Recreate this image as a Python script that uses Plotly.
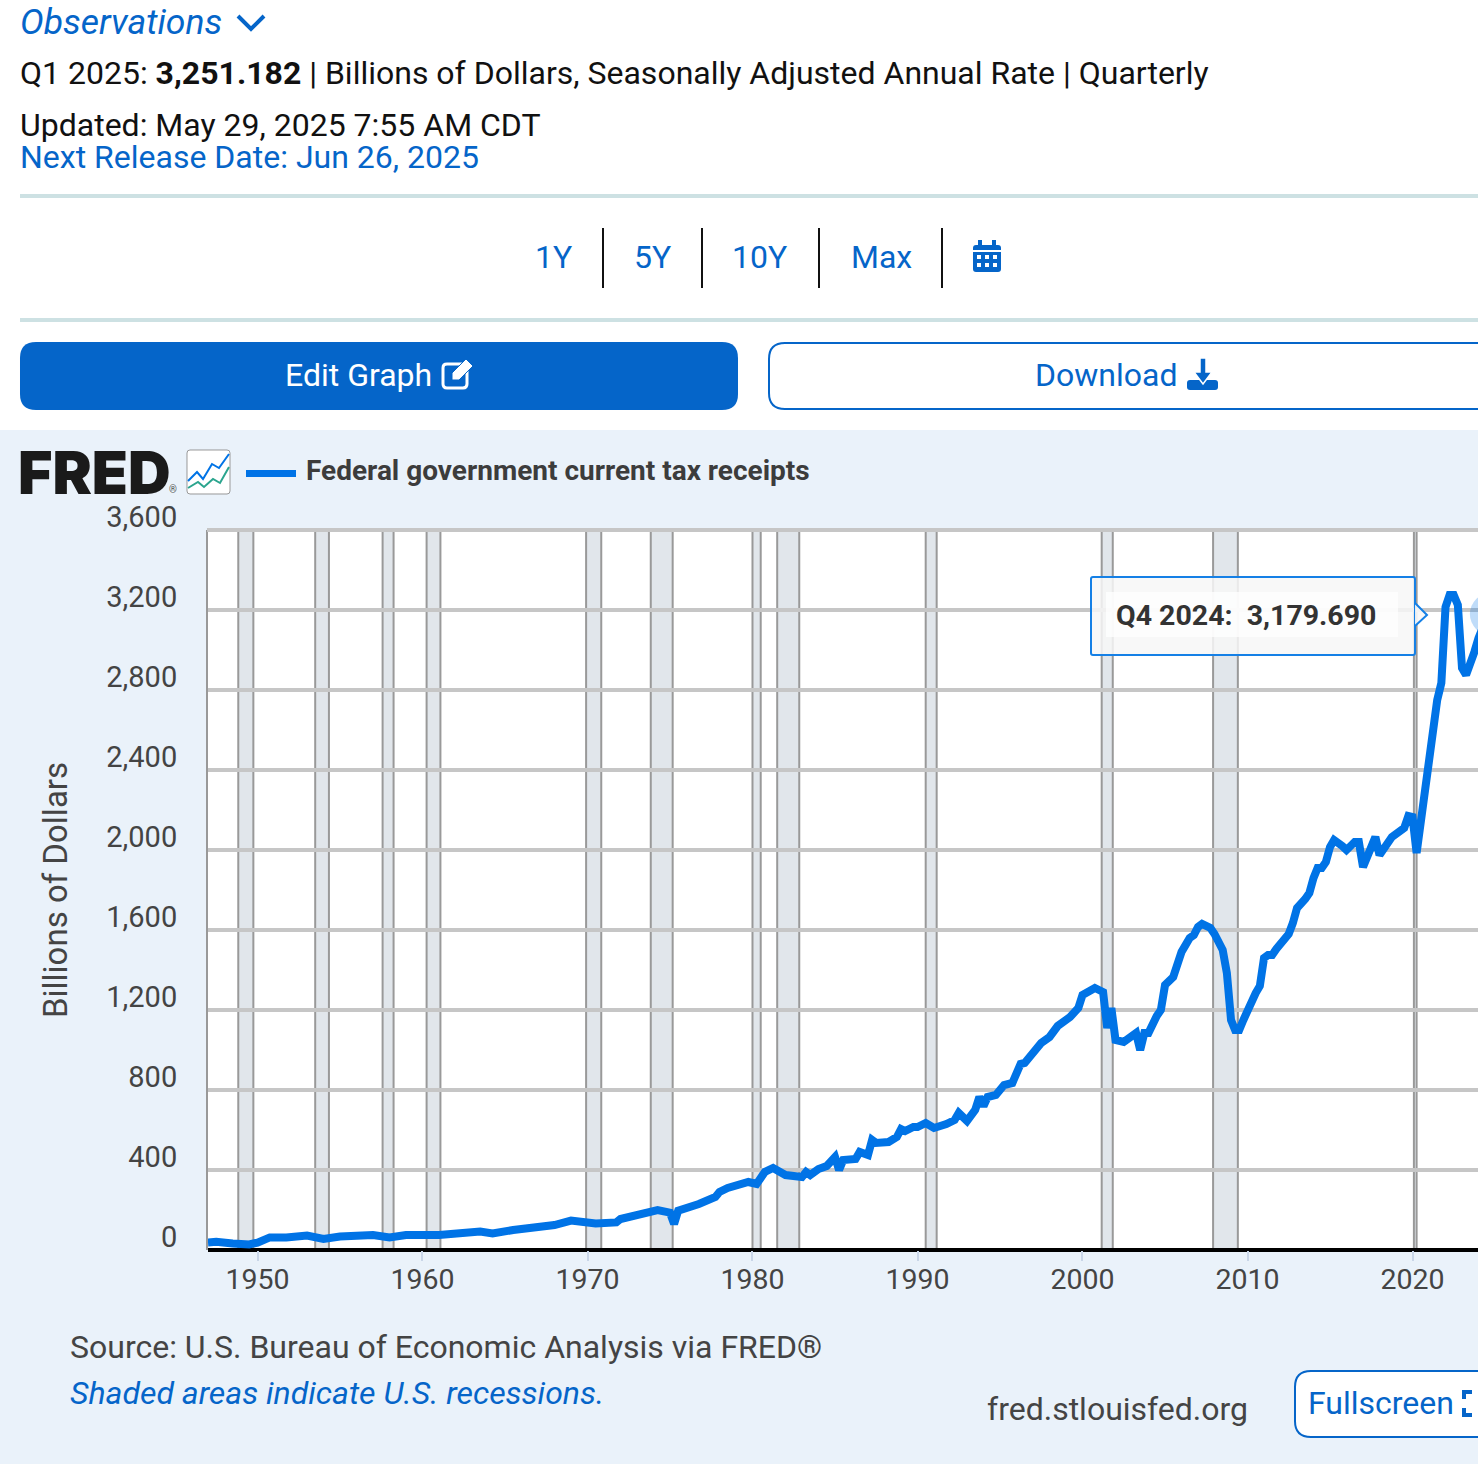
import pandas as pd
import plotly.graph_objects as go

W, H = 1478, 1474

quarters = [
    "1947Q1", "1947Q3", "1948Q3", "1949Q3", "1950Q1", "1950Q4", "1951Q4", "1953Q1", "1954Q1", "1955Q1",
    "1957Q1", "1958Q1", "1959Q1", "1961Q1", "1963Q3", "1964Q2", "1965Q3", "1967Q1", "1968Q1", "1969Q1",
    "1970Q3", "1971Q4", "1972Q1", "1974Q2", "1975Q1", "1975Q2", "1975Q3", "1976Q4", "1977Q4", "1978Q1",
    "1978Q3", "1979Q4", "1980Q2", "1980Q4", "1981Q2", "1982Q1", "1982Q3", "1983Q1", "1983Q2", "1983Q3",
    "1984Q1", "1984Q3", "1985Q1", "1985Q2", "1985Q3", "1986Q2", "1986Q3", "1987Q1", "1987Q2", "1987Q3",
    "1988Q2", "1988Q4", "1989Q1", "1989Q2", "1989Q4", "1990Q1", "1990Q3", "1991Q1", "1991Q4", "1992Q2",
    "1992Q3", "1993Q1", "1993Q3", "1993Q4", "1994Q1", "1994Q2", "1994Q4", "1995Q2", "1995Q4", "1996Q1",
    "1996Q2", "1996Q3", "1997Q3", "1998Q1", "1998Q3", "1999Q2", "1999Q4", "2000Q1", "2000Q4", "2001Q1",
    "2001Q2", "2001Q3", "2001Q4", "2002Q1", "2002Q3", "2003Q2", "2003Q3", "2003Q4", "2004Q1", "2004Q3",
    "2004Q4", "2005Q1", "2005Q3", "2006Q1", "2006Q3", "2006Q4", "2007Q1", "2007Q2", "2007Q4", "2008Q1",
    "2008Q2", "2008Q3", "2008Q4", "2009Q1", "2009Q2", "2009Q3", "2009Q4", "2010Q1", "2010Q2", "2010Q3",
    "2010Q4", "2011Q1", "2011Q2", "2011Q3", "2011Q4", "2012Q2", "2012Q3", "2012Q4", "2013Q1", "2013Q3",
    "2013Q4", "2014Q1", "2014Q2", "2014Q3", "2014Q4", "2015Q1", "2015Q2", "2015Q4", "2016Q1", "2016Q2",
    "2016Q3", "2016Q4", "2017Q1", "2017Q4", "2018Q1", "2018Q4", "2019Q2", "2019Q3", "2019Q4", "2020Q1",
    "2020Q2", "2020Q3", "2020Q4", "2021Q1", "2021Q2", "2021Q3", "2021Q4", "2022Q1", "2022Q2", "2022Q3",
    "2022Q4", "2023Q1", "2023Q2", "2023Q3", "2023Q4", "2024Q1", "2024Q2", "2024Q3", "2024Q4", "2025Q1",
]
receipts = [
    38, 41, 33, 28, 37, 63, 63, 72, 55, 67,
    75, 63, 75, 75, 92, 83, 100, 113, 125, 147,
    133, 138, 155, 200, 187, 130, 197, 230, 265, 290,
    310, 340, 330, 390, 410, 375, 365, 365, 390, 375,
    405, 420, 465, 400, 450, 455, 490, 475, 550, 535,
    540, 565, 605, 595, 615, 615, 635, 610, 630, 650,
    685, 645, 700, 765, 720, 765, 775, 825, 835, 875,
    930, 935, 1035, 1065, 1120, 1165, 1210, 1275, 1310, 1300,
    1290, 1110, 1210, 1050, 1040, 1085, 1000, 1085, 1085, 1170,
    1200, 1325, 1365, 1490, 1560, 1575, 1615, 1630, 1610, 1580,
    1545, 1500, 1385, 1150, 1100, 1100, 1150, 1200, 1245, 1285,
    1320, 1460, 1475, 1475, 1505, 1555, 1580, 1635, 1710, 1755,
    1785, 1860, 1910, 1910, 1940, 2015, 2050, 2020, 2000, 2020,
    2040, 2040, 1915, 2065, 1975, 2065, 2090, 2110, 2170, 2165,
    1985, 2140, 2285, 2475, 2650, 2750, 2835, 3215, 3275, 3275,
    3225, 2910, 2875, 2925, 2990, 3060, 3110, 3130, 3179.69, 3251.182,
]

recession_start = ["1948-11-01", "1953-07-01", "1957-08-01", "1960-04-01", "1969-12-01", "1973-11-01",
                   "1980-01-01", "1981-07-01", "1990-07-01", "2001-03-01", "2007-12-01", "2020-02-01"]
recession_end = ["1949-10-01", "1954-05-01", "1958-04-01", "1961-02-01", "1970-11-01", "1975-03-01",
                 "1980-07-01", "1982-11-01", "1991-03-01", "2001-11-01", "2009-06-01", "2020-04-01"]

range_tabs = ["1Y", "5Y", "10Y", "Max"]
tab_centers = [553, 652, 760, 881]
tab_dividers = [603, 702, 819, 942]

BLUE = "#0565C9"
LINE = "#0073E6"
PANEL = "#EAF2FA"
GRID = "#C6C6C6"
GREY = "#444444"
FONT = "Roboto"

dates = pd.PeriodIndex(quarters, freq="Q").to_timestamp()
last_idx = quarters.index("2024Q4")


def px(x):
    return x / W


def py(y):
    return 1 - y / H


def poly(points, close=False):
    path = "M" + " L".join(f"{px(x):.5f},{py(y):.5f}" for x, y in points)
    return path + (" Z" if close else "")


def round_box(x0, y0, x1, y1, r):
    # rounded rectangle as a paper path
    p = lambda x, y: f"{px(x):.5f},{py(y):.5f}"
    return (f"M{p(x0 + r, y0)} L{p(x1 - r, y0)} Q{p(x1, y0)} {p(x1, y0 + r)} L{p(x1, y1 - r)} "
            f"Q{p(x1, y1)} {p(x1 - r, y1)} L{p(x0 + r, y1)} Q{p(x0, y1)} {p(x0, y1 - r)} "
            f"L{p(x0, y0 + r)} Q{p(x0, y0)} {p(x0 + r, y0)} Z")


def path_shape(path, fill="rgba(0,0,0,0)", color="rgba(0,0,0,0)", width=0, layer="below"):
    return dict(type="path", xref="paper", yref="paper", path=path, fillcolor=fill,
                line=dict(color=color, width=width), layer=layer)


def rect_shape(x0, y0, x1, y1, fill, layer="below"):
    return dict(type="rect", xref="paper", yref="paper", x0=px(x0), x1=px(x1), y0=py(y0), y1=py(y1),
                fillcolor=fill, line=dict(width=0), layer=layer)


def label(text, x, y, size=32, color="#111111", anchor="left", family=FONT, **font):
    return dict(text=text, x=px(x), y=py(y), xref="paper", yref="paper", xanchor=anchor, yanchor="middle",
                showarrow=False, align="left", borderpad=0, font=dict(family=family, size=size, color=color, **font))


shapes = [
    rect_shape(0, 430, W, 1464, PANEL),
    rect_shape(207, 530, W, 1250, "white"),
    rect_shape(20, 194, W, 198, "#CDE1E3"),
    rect_shape(20, 318, W, 322, "#CDE1E3"),
    path_shape(round_box(20, 342, 738, 410, 16), fill=BLUE),
    path_shape(round_box(769, 343, 1510, 409, 16), fill="white", color=BLUE, width=2),
    path_shape(round_box(1295, 1371, 1510, 1437, 16), fill="white", color=BLUE, width=2),
    # chevron next to Observations
    path_shape(poly([(238, 16), (251, 29), (264, 16)]), color=BLUE, width=4),
    # calendar icon
    path_shape(round_box(973, 245, 1001, 272, 3), fill=BLUE),
    rect_shape(978, 240, 982, 248, BLUE),
    rect_shape(992, 240, 996, 248, BLUE),
    rect_shape(973, 250, 1001, 252, "white"),
    # edit icon
    path_shape(round_box(443, 364, 467, 388, 4), color="white", width=3),
    path_shape(poly([(452, 373), (466, 359), (473, 366), (459, 380), (452, 380)], True), fill="white", color=BLUE, width=1),
    # download icon
    path_shape(round_box(1187, 380, 1218, 390, 3), fill=BLUE),
    path_shape(poly([(1200, 358), (1206, 358), (1206, 372), (1212, 372), (1203, 384), (1194, 372), (1200, 372)], True),
               fill=BLUE, color="white", width=1.5),
    # fullscreen brackets
    path_shape(poly([(1472, 1392), (1464, 1392), (1464, 1399)]), color=BLUE, width=4),
    path_shape(poly([(1464, 1408), (1464, 1415), (1472, 1415)]), color=BLUE, width=4),
    # small FRED graph icon
    path_shape(round_box(187, 450, 230, 494, 3), fill="white", color="#999999", width=1),
    path_shape(poly([(188, 481), (197, 472), (203, 479), (212, 464), (219, 468), (229, 454)]), color=LINE, width=2),
    path_shape(poly([(188, 488), (198, 482), (204, 487), (213, 479), (220, 483), (229, 467)]), color="#2BA58E", width=2),
    # legend dash
    rect_shape(246, 470, 296, 477, LINE),
    # top edge of the plot, plotly drops the gridline on the range end
    rect_shape(207, 528, W, 532, GRID, layer="above"),
    # tooltip, drawn above the plot
    path_shape(round_box(1091, 577, 1415, 655, 2), fill="rgba(247,247,247,0.85)", color="#1580E6", width=2, layer="above"),
    rect_shape(1106, 592, 1398, 637, "rgba(255,255,255,0.75)", layer="above"),
    path_shape(poly([(1415, 603), (1427, 615), (1415, 626)]), fill="rgba(247,247,247,0.9)", color="#1580E6", width=2, layer="above"),
]
for cx in [979, 987, 995]:
    for cy in [257, 265]:
        shapes.append(rect_shape(cx - 2, cy - 2, cx + 2, cy + 2, "white"))
for x in tab_dividers:
    shapes.append(rect_shape(x - 1, 228, x + 1, 288, "#111111"))
for start, end in zip(recession_start, recession_end):
    shapes.append(dict(type="rect", xref="x", yref="y", x0=start, x1=end, y0=0, y1=3600, layer="below",
                       fillcolor="#E1E6EB", line=dict(color="#999999", width=2)))

annotations = [
    label("Observations", 19, 22, size=35.5, color=BLUE, style="italic"),
    label("Q1 2025: <b>3,251.182</b> | Billions of Dollars, Seasonally Adjusted Annual Rate | Quarterly", 19, 73),
    label("Updated: May 29, 2025 7:55 AM CDT", 19, 125),
    label("Next Release Date: Jun 26, 2025", 19, 157, color=BLUE),
    label("Edit Graph", 358, 375, color="white", anchor="center"),
    label("Download", 1106, 375, color=BLUE, anchor="center"),
    label("FRED", 17, 472, size=59, color="#1A1A1A", family="Inter", weight=900),
    label("®", 168, 490, size=10, color="#555555"),
    label("Federal government current tax receipts", 305, 470, size=28, color="#3C3C3C", weight=700),
    label(f"{quarters[last_idx][4:]} {quarters[last_idx][:4]}:&nbsp;&nbsp;{receipts[last_idx]:,.3f}", 1115, 615,
          size=28.5, color="#333333", weight=700),
    label("Source: U.S. Bureau of Economic Analysis via FRED®", 69, 1347, color=GREY),
    label("Shaded areas indicate U.S. recessions.", 69, 1393, color=BLUE, style="italic"),
    label("fred.stlouisfed.org", 986, 1409, color=GREY),
    label("Fullscreen", 1307, 1403, color=BLUE),
]
for tab, x in zip(range_tabs, tab_centers):
    annotations.append(label(tab, x, 257, color=BLUE, anchor="center"))

fig = go.Figure()
fig.add_trace(go.Scatter(x=dates, y=receipts, mode="lines", line=dict(color=LINE, width=8), hoverinfo="skip"))
fig.add_trace(go.Scatter(x=[dates[last_idx]], y=[receipts[last_idx]], mode="markers",
                         marker=dict(size=42, color="rgba(0,115,230,0.25)"), hoverinfo="skip"))

fig.update_layout(
    width=W,
    height=H,
    margin=dict(l=0, r=0, t=0, b=0, autoexpand=False),
    showlegend=False,
    paper_bgcolor="white",
    plot_bgcolor="white",
    font=dict(family=FONT, color=GREY),
    shapes=shapes,
    annotations=annotations,
)
fig.update_xaxes(
    domain=[px(208), 1],
    type="date",
    range=["1947-01-01", "2023-12-21"],
    tick0="1950-01-01",
    dtick="M120",
    tickformat="%Y",
    showgrid=False,
    showline=False,
    ticks="outside",
    ticklen=10,
    tickwidth=2,
    tickcolor="#C9D6E8",
    ticklabelstandoff=-6,
    tickfont=dict(size=28.5, color=GREY),
)
fig.update_yaxes(
    domain=[py(1250), py(530)],
    range=[0, 3600],
    dtick=400,
    tickformat=",",
    gridcolor=GRID,
    gridwidth=4,
    zeroline=True,
    zerolinecolor="black",
    zerolinewidth=4,
    showline=True,
    linecolor="#999999",
    linewidth=2,
    ticks="",
    ticklabelposition="outside top",
    ticklabelstandoff=23,
    ticklabelshift=7,
    tickfont=dict(size=29, color=GREY),
    title=dict(text="Billions of Dollars", font=dict(size=33, color=GREY), standoff=29),
)

fig.write_html("out.html", config={"displayModeBar": False},
               post_script="document.body.style.margin='0';document.body.style.overflow='hidden';")
